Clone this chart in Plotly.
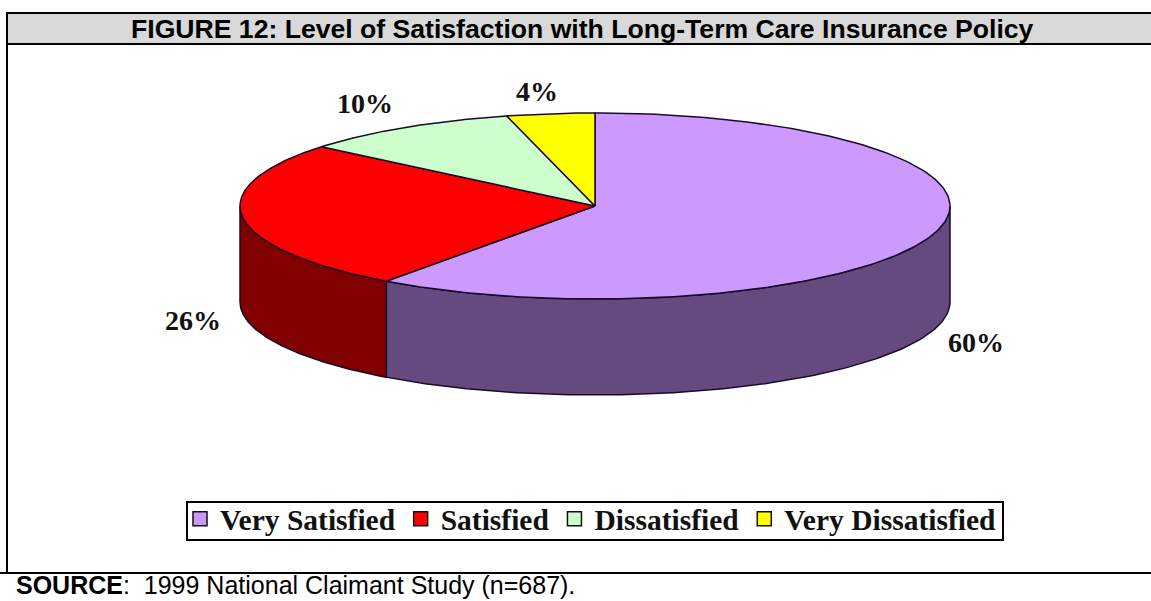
import numpy as np
import plotly.graph_objects as go

categories = ["Very Satisfied", "Satisfied", "Dissatisfied", "Very Dissatisfied"]
shares = [60, 26, 10, 4]
top_colors = ["#CC99FF", "#FF0000", "#CCFFCC", "#FFFF00"]
side_colors = ["#654A80", "#800000", "#669966", "#808000"]
title_text = "FIGURE 12: Level of Satisfaction with Long-Term Care Insurance Policy"

W, H = 1151, 601
CX, CY, RX, RY, DEPTH = 595, 206, 355, 93, 96
OUTLINE = "#1a0a2a"

def pt(deg, dy=0):
    a = np.radians(deg)
    return CX + RX * np.sin(a), CY - RY * np.cos(a) + dy

fig = go.Figure()
edges = np.cumsum([0] + shares) * 3.6

# sides (clockwise angle from 12 o'clock; front half only)
for i, c in enumerate(categories):
    lo, hi = max(edges[i], 90), min(edges[i + 1], 270)
    if hi <= lo:
        continue
    t = np.linspace(lo, hi, 120)
    xt, yt = pt(t)
    xb, yb = pt(t[::-1], DEPTH)
    fig.add_trace(go.Scatter(x=np.r_[xt, xb, xt[0]], y=np.r_[yt, yb, yt[0]], mode="lines", fill="toself",
                             fillcolor=side_colors[i], line=dict(color=OUTLINE, width=1.5),
                             showlegend=False, hoverinfo="skip"))
# tops
for i, c in enumerate(categories):
    t = np.linspace(edges[i], edges[i + 1], 200)
    xt, yt = pt(t)
    fig.add_trace(go.Scatter(x=np.r_[CX, xt, CX], y=np.r_[CY, yt, CY], mode="lines", fill="toself",
                             fillcolor=top_colors[i], line=dict(color=OUTLINE, width=1.5),
                             name=c, showlegend=False))
# legend entries
for i, c in enumerate(categories):
    fig.add_trace(go.Scatter(x=[None], y=[None], mode="markers", name=c,
                             marker=dict(symbol="square", size=14, color=top_colors[i],
                                         line=dict(color="#111111", width=1.5))))

label_xy = [(976, 342), (193, 320), (365, 103), (537, 91)]
annotations = [dict(x=x, y=y, text=f"<b>{v}%</b>", showarrow=False, xref="x", yref="y",
                    font=dict(family="Liberation Serif", size=28, color="#111111"))
               for (x, y), v in zip(label_xy, shares)]
annotations.append(dict(x=582.5, y=29, text=f"<b>{title_text}</b>", showarrow=False, xref="x", yref="y",
                        font=dict(family="Liberation Sans", size=26.6, color="black")))
annotations.append(dict(x=14, y=H, xanchor="left", yanchor="bottom", showarrow=False, xref="x", yref="y",
                        text="<b>SOURCE</b>:  1999 National Claimant Study (n=687).",
                        font=dict(family="Liberation Sans", size=25, color="black")))

shapes = [
    dict(type="rect", x0=7, x1=W + 5, y0=13, y1=44, fillcolor="#D9D9D9", line=dict(color="black", width=2), layer="below"),
    dict(type="line", x0=7, x1=7, y0=13, y1=573, line=dict(color="black", width=2)),
    dict(type="line", x0=0, x1=W, y0=573, y1=573, line=dict(color="black", width=2)),
    dict(type="rect", x0=187, x1=1003, y0=502, y1=540, line=dict(color="black", width=2), layer="above"),
]

fig.update_layout(
    width=W, height=H, margin=dict(l=0, r=0, t=0, b=0), paper_bgcolor="white", plot_bgcolor="white",
    xaxis=dict(range=[0, W], visible=False, fixedrange=True),
    yaxis=dict(range=[H, 0], visible=False, fixedrange=True),
    shapes=shapes, annotations=annotations,
    legend=dict(orientation="h", xref="paper", x=180 / W, xanchor="left", y=1 - 493 / H, yanchor="top",
                font=dict(family="Liberation Serif", size=29.5, color="#111111", weight="bold"),
                borderwidth=0, bgcolor="rgba(0,0,0,0)", itemclick=False, itemdoubleclick=False),
)
fig.write_html("out.html", config=dict(displayModeBar=False), post_script="document.body.style.margin='0';")
